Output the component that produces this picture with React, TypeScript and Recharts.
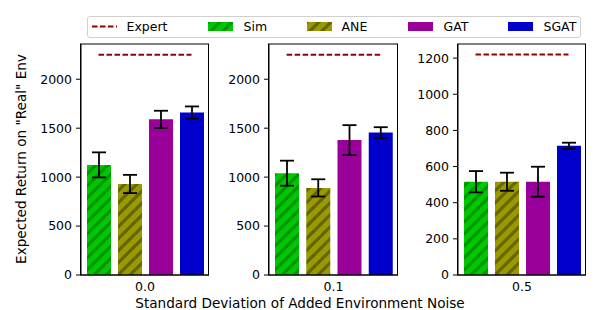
import { ComposedChart, Bar, Line, XAxis, YAxis, ErrorBar, Cell } from "recharts";

// methods compared in every panel
const methods = ["Sim", "ANE", "GAT", "SGAT"];
const noiseLevels = ["0.0", "0.1", "0.5"];

// expected return on the "real" env, one array per noise level
const meanNoise00 = [1125, 930, 1590, 1660];
const errNoise00 = [128, 93, 88, 62];
const meanNoise01 = [1040, 890, 1378, 1455];
const errNoise01 = [128, 88, 153, 55];
const meanNoise05 = [516, 516, 516, 715];
const errNoise05 = [59, 50, 83, 17];

const expertReturn = [2250, 2250, 1220];

const yTicksLarge = [0, 500, 1000, 1500, 2000];
const yTicksSmall = [0, 200, 400, 600, 800, 1000, 1200];

const means = [meanNoise00, meanNoise01, meanNoise05];
const errs = [errNoise00, errNoise01, errNoise05];
const yTicks = [yTicksLarge, yTicksLarge, yTicksSmall];
const yMax = [2360, 2360, 1278];

const FONT = "'DejaVu Sans', sans-serif";
const AXIS_W = 60;
const PLOT_TOP = 44;
const PLOT_H = 231;
const panelLeft = [80.5, 268.5, 457.5];
const panelWidth = [128, 129, 128];

const barFill = (m: string, p: string) => {
  if (m === "Sim") return `url(#simHatch-${p})`;
  if (m === "ANE") return `url(#aneHatch-${p})`;
  if (m === "GAT") return "#990099";
  return "#0000cc";
};

function Hatches({ id }: { id: string }) {
  return (
    <defs>
      <pattern id={`simHatch-${id}`} width="12" height="12" patternUnits="userSpaceOnUse">
        <rect width="12" height="12" fill="#00c800" />
        <path d="M-6,6 L6,-6 M0,12 L12,0 M6,18 L18,6" stroke="#009600" strokeWidth="3.2" />
      </pattern>
      <pattern id={`aneHatch-${id}`} width="12" height="12" patternUnits="userSpaceOnUse">
        <rect width="12" height="12" fill="#999900" />
        <path d="M-6,6 L6,-6 M0,12 L12,0 M6,18 L18,6" stroke="#666600" strokeWidth="3.2" />
      </pattern>
    </defs>
  );
}

function Panel({ p }: { p: number }) {
  const rows = methods.map((m, i) => ({
    method: m,
    value: means[p][i],
    err: errs[p][i],
    expert: expertReturn[p],
  }));
  const w = AXIS_W + panelWidth[p] + 2;
  return (
    <div style={{ position: "absolute", left: panelLeft[p] - AXIS_W, top: 0 }}>
      <ComposedChart
        width={w}
        height={310}
        data={rows}
        margin={{ top: PLOT_TOP, right: 2, bottom: 0, left: 0 }}
        barSize={24}
      >
        <Hatches id={String(p)} />
        <XAxis
          dataKey="method"
          height={310 - PLOT_TOP - PLOT_H}
          padding={{ left: 2, right: 2 }}
          tick={false}
          tickLine={false}
          axisLine={{ stroke: "#000" }}
          label={{
            value: noiseLevels[p],
            position: "insideTop",
            offset: 7,
            style: { fontFamily: FONT, fontSize: 12.5, fill: "#000" },
          }}
        />
        <YAxis
          type="number"
          width={AXIS_W}
          domain={[0, yMax[p]]}
          ticks={yTicks[p]}
          allowDataOverflow
          tickSize={5}
          tickMargin={4}
          tickLine={{ stroke: "#000" }}
          axisLine={{ stroke: "#000" }}
          tick={{ fontFamily: FONT, fontSize: 12.5, fill: "#000" }}
        />
        <Bar dataKey="value" isAnimationActive={false}>
          {rows.map((r) => (
            <Cell key={r.method} fill={barFill(r.method, String(p))} />
          ))}
          <ErrorBar dataKey="err" width={7} stroke="#000" strokeWidth={1.8} />
        </Bar>
        <Line
          dataKey="expert"
          stroke="#990000"
          strokeWidth={2}
          strokeDasharray="5.5 2.5"
          dot={false}
          activeDot={false}
          isAnimationActive={false}
        />
      </ComposedChart>
    </div>
  );
}

function LegendPatch({ m }: { m: string }) {
  return (
    <svg width={25} height={9} style={{ display: "block" }}>
      <Hatches id={`lg-${m}`} />
      <rect width={25} height={9} fill={barFill(m, `lg-${m}`)} />
    </svg>
  );
}

function ChartLegend() {
  const items = [
    { name: "Expert", x: 4, tx: 39 },
    { name: "Sim", x: 120, tx: 156 },
    { name: "ANE", x: 219, tx: 254 },
    { name: "GAT", x: 320, tx: 356 },
    { name: "SGAT", x: 420, tx: 456 },
  ];
  return (
    <div
      style={{
        position: "absolute",
        left: 86.5,
        top: 15.5,
        width: 494,
        height: 22,
        border: "1px solid #d0d0d0",
        borderRadius: 3,
        boxSizing: "border-box",
        fontFamily: FONT,
        fontSize: 12.5,
        background: "#fff",
      }}
    >
      {items.map((it) => (
        <div key={it.name}>
          <div style={{ position: "absolute", left: it.x, top: 5.5 }}>
            {it.name === "Expert" ? (
              <svg width={25} height={9} style={{ display: "block" }}>
                <line x1={0} y1={4.5} x2={25} y2={4.5} stroke="#990000" strokeWidth={2} strokeDasharray="5.5 2.5" />
              </svg>
            ) : (
              <LegendPatch m={it.name} />
            )}
          </div>
          <div style={{ position: "absolute", left: it.tx, top: 2.5, lineHeight: "15px" }}>{it.name}</div>
        </div>
      ))}
    </div>
  );
}

export default function App() {
  return (
    <div style={{ position: "absolute", left: 0, top: 0, width: 600, height: 310, background: "#fff", overflow: "hidden" }}>
      {[0, 1, 2].map((p) => (
        <Panel key={p} p={p} />
      ))}
      {/* top/right spines of each panel */}
      <svg width={600} height={310} style={{ position: "absolute", left: 0, top: 0, pointerEvents: "none" }}>
        {[0, 1, 2].map((p) => (
          <rect
            key={p}
            x={panelLeft[p]}
            y={PLOT_TOP}
            width={panelWidth[p]}
            height={PLOT_H}
            fill="none"
            stroke="#000"
          />
        ))}
      </svg>
      <ChartLegend />
      <div
        style={{
          position: "absolute",
          left: 300,
          top: 303,
          transform: "translate(-50%, -50%)",
          whiteSpace: "nowrap",
          fontFamily: FONT,
          fontSize: 13.6,
          lineHeight: "14px",
        }}
      >
        Standard Deviation of Added Environment Noise
      </div>
      <div
        style={{
          position: "absolute",
          left: 21,
          top: 159,
          transform: "translate(-50%, -50%) rotate(-90deg)",
          whiteSpace: "nowrap",
          fontFamily: FONT,
          fontSize: 13.6,
        }}
      >
        Expected Return on "Real" Env
      </div>
    </div>
  );
}
